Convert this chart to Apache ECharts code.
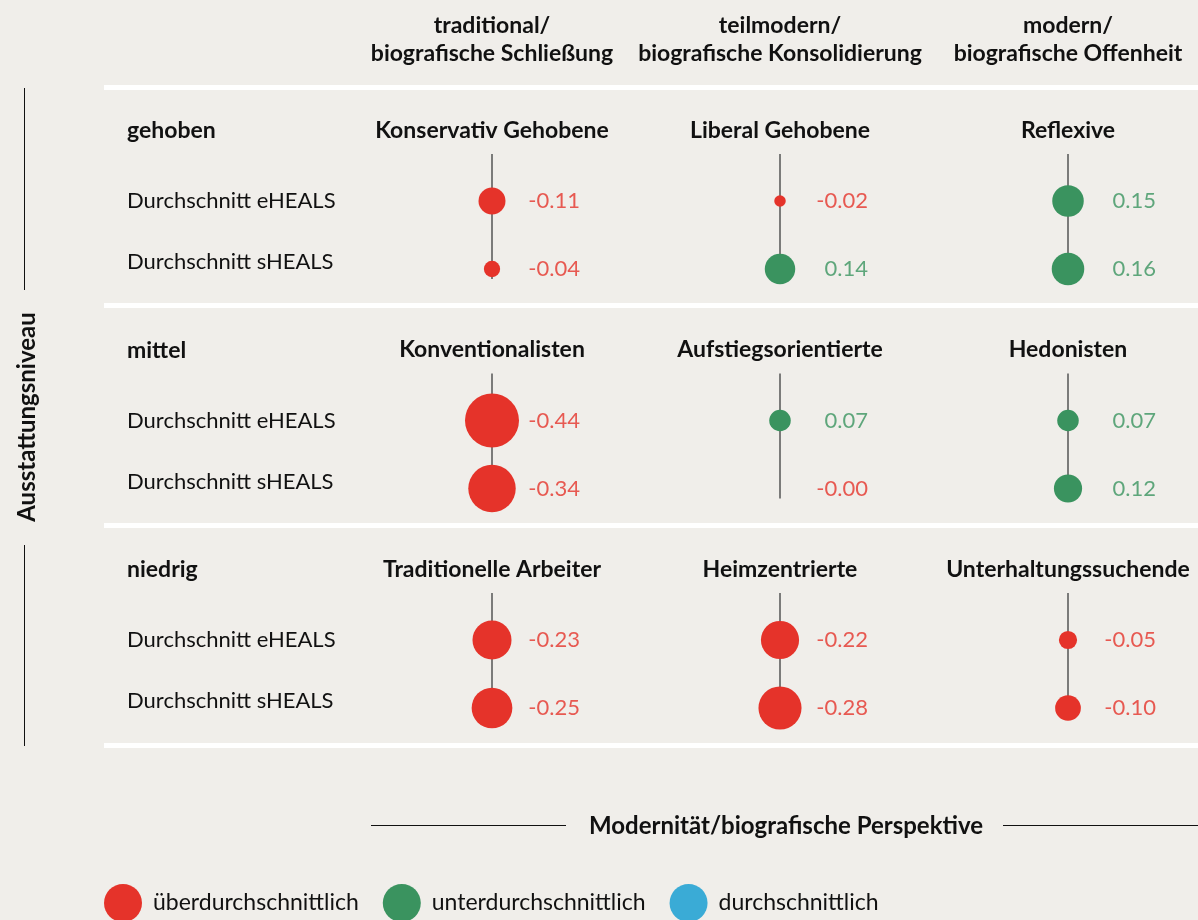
<!DOCTYPE html>
<html>
<head>
<meta charset="utf-8">
<script src="https://cdn.jsdelivr.net/npm/echarts@6/dist/echarts.min.js"></script>
<style>
  html, body { margin: 0; padding: 0; background: #f0eeea; }
  #chart { width: 1198px; height: 920px; }
</style>
</head>
<body>
<div id="chart"></div>
<script>
// Spalten (Modernität) und Zeilen (Ausstattungsniveau)
var columns = ['traditional/\nbiografische Schließung', 'teilmodern/\nbiografische Konsolidierung', 'modern/\nbiografische Offenheit'];
var levels = ['gehoben', 'mittel', 'niedrig'];
var measures = ['Durchschnitt eHEALS', 'Durchschnitt sHEALS'];
var groups = [
  ['Konservativ Gehobene', 'Liberal Gehobene', 'Reflexive'],
  ['Konventionalisten', 'Aufstiegsorientierte', 'Hedonisten'],
  ['Traditionelle Arbeiter', 'Heimzentrierte', 'Unterhaltungssuchende']
];
var eHEALS = [
  [-0.11, -0.02, 0.15],
  [-0.44, 0.07, 0.07],
  [-0.23, -0.22, -0.05]
];
var sHEALS = [
  [-0.04, 0.14, 0.16],
  [-0.34, -0.00, 0.12],
  [-0.25, -0.28, -0.10]
];
var legendNames = ['überdurchschnittlich', 'unterdurchschnittlich', 'durchschnittlich'];

var RED = '#e5332a', GREEN = '#3a935f', BLUE = '#3aabd6';
var FONT = 'Lato';
var gridLeft = 348, colW = 288, rowTop = 167, rowStep = 219.5, rowH = 136;

function isNeg(v) { return v < 0 || Object.is(v, -0); }
function fmt(v) { return (isNeg(v) ? '-' : '') + Math.abs(v).toFixed(2); }
function bubble(v) { return 81.4 * Math.sqrt(Math.abs(v[2])); }

function points(r) {
  var list = [];
  for (var c = 0; c < 3; c++) {
    list.push([c, 0, eHEALS[r][c]]);
    list.push([c, 1, sHEALS[r][c]]);
  }
  return list;
}

var grids = [], xAxes = [], yAxes = [], series = [], graphics = [];

levels.forEach(function (lvl, r) {
  var top = rowTop + r * rowStep;
  grids.push({ left: gridLeft, top: top, width: colW * 3, height: rowH, outerBoundsMode: 'none', containLabel: false });
  xAxes.push({
    gridIndex: r, type: 'category', position: 'top', data: groups[r],
    axisLine: { show: false }, axisTick: { show: false }, splitLine: { show: false },
    axisLabel: { interval: 0, margin: 25, fontFamily: FONT, fontWeight: 'bold', fontSize: 23, color: '#111' }
  });
  yAxes.push({
    gridIndex: r, type: 'category', inverse: true, data: measures,
    axisLine: { show: false }, axisTick: { show: false }, splitLine: { show: false },
    axisLabel: {
      align: 'left', margin: gridLeft - 127, fontFamily: FONT, fontSize: 22, color: '#111',
      formatter: function (val, i) { return i === 1 ? '{s|' + val + '}' : val; },
      rich: { s: { fontFamily: FONT, fontSize: 22, color: '#111', padding: [0, 0, 14, 0] } }
    }
  });

  var pts = points(r);

  // senkrechte Linie je Milieu
  series.push({
    type: 'custom', xAxisIndex: r, yAxisIndex: r, z: 1, silent: true,
    data: [[0], [1], [2]],
    renderItem: function (params, api) {
      var c = api.value(0);
      var a = api.coord([c, 0]), b = api.coord([c, 1]);
      return {
        type: 'line',
        shape: { x1: a[0], y1: a[1] - 47, x2: b[0], y2: b[1] + 10 },
        style: { stroke: '#555', lineWidth: 1.5 }
      };
    }
  });

  series.push({
    name: legendNames[0], type: 'scatter', xAxisIndex: r, yAxisIndex: r, z: 3,
    data: pts.filter(function (p) { return p[2] < 0; }),
    symbolSize: bubble, itemStyle: { color: RED, opacity: 1 }
  });
  series.push({
    name: legendNames[1], type: 'scatter', xAxisIndex: r, yAxisIndex: r, z: 3,
    data: pts.filter(function (p) { return p[2] > 0; }),
    symbolSize: bubble, itemStyle: { color: GREEN, opacity: 1 }
  });

  // Werte rechts neben den Kreisen
  series.push({
    type: 'scatter', xAxisIndex: r, yAxisIndex: r, z: 4, silent: true,
    symbolSize: 0,
    data: pts.map(function (p) {
      return {
        value: p,
        label: {
          show: true, position: 'inside', align: 'right', offset: [88, 0],
          formatter: fmt(p[2]), color: isNeg(p[2]) ? RED : GREEN,
          fontFamily: FONT, fontSize: 22
        }
      };
    })
  });

  graphics.push({
    type: 'text', x: 127, y: top - 36,
    style: { text: lvl, font: 'bold 23px ' + FONT, fill: '#111', verticalAlign: 'middle' }
  });
});

series.push({
  name: legendNames[2], type: 'scatter', xAxisIndex: 0, yAxisIndex: 0,
  data: [], itemStyle: { color: BLUE, opacity: 1 }
});

// weiße Trennlinien
[85, 303, 523, 743].forEach(function (y) {
  graphics.push({ type: 'rect', shape: { x: 104, y: y, width: 1094, height: 5 }, style: { fill: '#ffffff' } });
});

// Spaltenköpfe
columns.forEach(function (txt, c) {
  graphics.push({
    type: 'text', x: gridLeft + (c + 0.5) * colW, y: 40,
    style: { text: txt, font: 'bold 23px ' + FONT, fill: '#111', align: 'center', verticalAlign: 'middle', lineHeight: 28 }
  });
});

// Achsentitel links
graphics.push({ type: 'line', shape: { x1: 24.5, y1: 88, x2: 24.5, y2: 290 }, style: { stroke: '#111', lineWidth: 1 } });
graphics.push({ type: 'line', shape: { x1: 24.5, y1: 545, x2: 24.5, y2: 746 }, style: { stroke: '#111', lineWidth: 1 } });
graphics.push({
  type: 'text', x: 27, y: 417, rotation: Math.PI / 2,
  style: { text: 'Ausstattungsniveau', font: 'bold 24px ' + FONT, fill: '#111', align: 'center', verticalAlign: 'middle' }
});

// Achsentitel unten
graphics.push({ type: 'line', shape: { x1: 371, y1: 825.5, x2: 566, y2: 825.5 }, style: { stroke: '#111', lineWidth: 1 } });
graphics.push({ type: 'line', shape: { x1: 1003, y1: 825.5, x2: 1198, y2: 825.5 }, style: { stroke: '#111', lineWidth: 1 } });
graphics.push({
  type: 'text', x: 786, y: 826,
  style: { text: 'Modernität/biografische Perspektive', font: 'bold 24px ' + FONT, fill: '#111', align: 'center', verticalAlign: 'middle' }
});

var myChart = echarts.init(document.getElementById('chart'));
myChart.setOption({
  backgroundColor: '#f0eeea',
  animation: false,
  textStyle: { fontFamily: FONT },
  grid: grids,
  xAxis: xAxes,
  yAxis: yAxes,
  legend: {
    data: legendNames, left: 104, top: 884, padding: 0, icon: 'circle',
    itemWidth: 38, itemHeight: 38, itemGap: 24, selectedMode: false,
    textStyle: { fontFamily: FONT, fontSize: 23, color: '#111', padding: [0, 0, 0, 6] }
  },
  graphic: graphics,
  series: series
});
</script>
</body>
</html>
